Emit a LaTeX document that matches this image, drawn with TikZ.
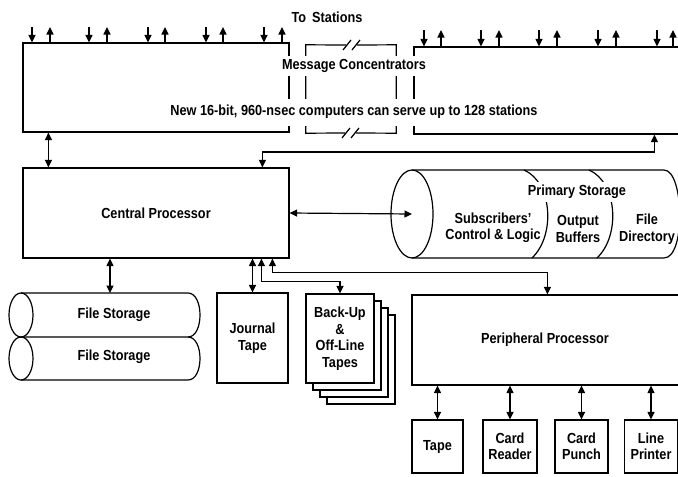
\documentclass[tikz,border=0pt]{standalone}
\usepackage{fontspec}
\setmainfont{Liberation Sans}[FakeStretch=0.87]
\usetikzlibrary{arrows.meta,shapes.geometric}
\tikzset{
  ln/.style={line width=1.2pt},
  tip/.style={ln,-{Triangle[length=7.5pt,width=7pt]}},
  bi/.style={ln,{Triangle[length=7.5pt,width=7pt]}-{Triangle[length=7.5pt,width=7pt]}},
  txt/.style={font=\bfseries\fontsize{14.6}{16.5}\selectfont, align=center, inner sep=2pt},
  box/.style={draw, ln, rectangle, inner sep=0pt, txt},
  wlbl/.style={txt, fill=white, inner sep=3pt}
}
\begin{document}
\begin{tikzpicture}[x=1pt,y=-1pt]
\useasboundingbox (0,0) rectangle (678,477);
% message concentrators
\node[box, minimum width=266, minimum height=89] (mcL) at (156,87.5) {};
\node[minimum width=90, minimum height=88, inner sep=0] (mcM) at (351,89) {};
\draw[ln] (346,45) -- (mcM.north west) -- (mcM.south west) -- (345,133);
\draw[ln] (357,45) -- (mcM.north east) -- (mcM.south east) -- (356,133);
\draw[ln] (343,50) -- (351,40) (352,50) -- (360,40);
\draw[ln] (342,138) -- (350,128) (351,138) -- (359,128);
\node[box, minimum width=286, minimum height=87] (mcR) at (557,90.5) {};
\node[wlbl, minimum height=20] (mcT) at (354,66) {Message Concentrators};
\node[wlbl, minimum height=27] (mcS) at (354,112) {New 16-bit, 960-nsec computers can serve up to 128 stations};
\node[txt] (toS) at (327,17) {To\hspace{6pt}Stations};
% station arrows
\foreach \i/\x in {1/32,2/89,3/148,4/206,5/264}{
  \coordinate (dL\i) at (\x,27);
  \draw[tip] (dL\i) -- (dL\i |- mcL.north);}
\foreach \i/\x in {1/50,2/107,3/165,4/223,5/282}{
  \coordinate (uL\i) at (\x,27);
  \draw[tip] (uL\i |- mcL.north) -- (uL\i);}
\foreach \i/\x in {1/424,2/481,3/539,4/598,5/657}{
  \coordinate (dR\i) at (\x,30);
  \draw[tip] (dR\i) -- (dR\i |- mcR.north);}
\foreach \i/\x in {1/441,2/499,3/557,4/616,5/673}{
  \coordinate (uR\i) at (\x,30);
  \draw[tip] (uR\i |- mcR.north) -- (uR\i);}
% central processor
\node[box, minimum width=266, minimum height=90] (CP) at (156,213) {Central Processor};
\draw[bi] ([xshift=26pt]mcL.south west) -- ([xshift=26pt]CP.north west);
\coordinate (busA) at (460,152);
\draw[bi] ([xshift=240pt]CP.north west) |- (busA) -| ([xshift=241pt]mcR.south west);
% primary storage
\draw[ln] (412,170) -- (664,170) .. controls (684,170) and (686,258) .. (664,258) -- (412,258);
\draw[ln] (524,170) .. controls (552,182) and (556,235) .. (532,258);
\draw[ln] (589,170) .. controls (617,182) and (621,235) .. (597,258);
\node[ellipse, draw, ln, minimum width=42, minimum height=88, inner sep=0] (psEnd) at (412,214) {};
\node[wlbl] (psT) at (577,192) {Primary Storage};
\node[txt] (ps1) at (493,228) {Subscribers'\\Control \& Logic};
\node[txt] (ps2) at (578,229) {Output\\Buffers};
\node[txt] (ps3) at (647,229) {File\\Directory};
\draw[bi] (CP.east) -- (psEnd.center);
% file storage
\draw[ln] (21,293) -- (188,293) .. controls (204,293) and (204,337) .. (188,337) -- (21,337);
\draw[ln] (188,337) .. controls (204,337) and (204,380) .. (188,380) -- (21,380);
\draw[ln] (21,315) ellipse [x radius=12, y radius=22];
\draw[ln] (21,358.5) ellipse [x radius=12, y radius=21.5];
\node[txt] (fs1) at (114,315) {File Storage};
\node[txt] (fs2) at (114,357) {File Storage};
\coordinate (fsTop) at (110,293);
\draw[bi] (CP.south -| fsTop) -- (fsTop);
% journal tape
\node[box, minimum width=71, minimum height=90] (JT) at (252.5,338) {Journal\\Tape};
\draw[bi] (CP.south -| JT.north) -- (JT.north);
% back-up stack
\foreach \k in {3,2,1}{
  \draw[ln, fill=white] (306+7*\k,294+7*\k) rectangle (374+7*\k,383+7*\k);}
\node[box, fill=white, minimum width=68, minimum height=89] (BU) at (340,338.5) {Back-Up\\\&\\Off-Line\\Tapes};
\draw[bi] ([xshift=239pt]CP.south west) -- ++(0,23) -| (BU.north);
% peripheral processor
\node[box, minimum width=288, minimum height=90] (PP) at (556,340) {};
\node[txt] (PPt) at (545,340) {Peripheral Processor};
\draw[bi] ([xshift=250pt]CP.south west) -- ++(0,14) -| ([xshift=136pt]PP.north west);
% devices
\node[box, minimum width=51, minimum height=53] (d1) at (437.5,446.5) {Tape};
\node[box, minimum width=54, minimum height=53] (d2) at (510,446.5) {Card\\Reader};
\node[box, minimum width=53, minimum height=53] (d3) at (581.5,446.5) {Card\\Punch};
\node[box, minimum width=53, minimum height=53] (d4) at (651,446.5) {Line\\Printer};
\foreach \d in {d1,d2,d3,d4}{
  \draw[bi] (PP.south -| \d.north) -- (\d.north);}
\end{tikzpicture}
\end{document}
